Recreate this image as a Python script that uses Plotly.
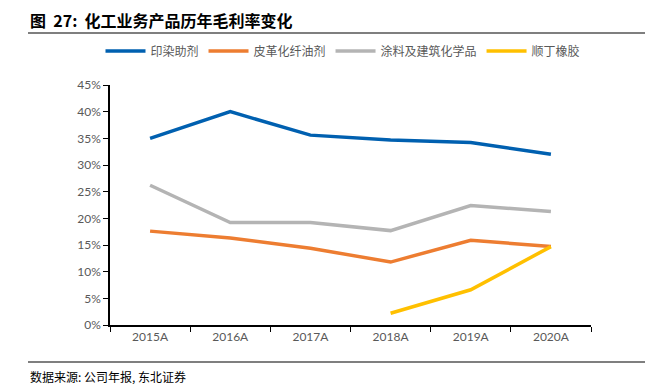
import plotly.graph_objects as go

years = ["2015A", "2016A", "2017A", "2018A", "2019A", "2020A"]
yinran = [35.0, 40.0, 35.6, 34.7, 34.2, 32.0]
pige = [17.6, 16.3, 14.4, 11.8, 15.9, 14.7]
tuliao = [26.2, 19.2, 19.2, 17.7, 22.4, 21.3]
shunding = [None, None, None, 2.2, 6.6, 14.7]
yticks = [0, 5, 10, 15, 20, 25, 30, 35, 40, 45]
ytick_text = [f"{v}%" for v in yticks]

series = [
    ("印染助剂", yinran, "#0060B0"),
    ("皮革化纤油剂", pige, "#ED7D31"),
    ("涂料及建筑化学品", tuliao, "#B4B4B4"),
    ("顺丁橡胶", shunding, "#FFC000"),
]

fig = go.Figure()
for name, vals, col in series:
    fig.add_trace(go.Scatter(x=years, y=vals, name=name, mode="lines",
                             line=dict(color=col, width=3.5), connectgaps=False))

OFF = 8  # page body margin
W, H = 666 - OFF, 388 - OFF
# target pixel positions in the screenshot
PL, PR, PT, PB = 110, 591, 85, 325
L, T = PL - OFF, PT - OFF
R = W - (PR - OFF)
B = H - (PB - OFF)
pw, ph = PR - PL, PB - PT

def px(x):
    return (x - PL) / pw

def py(y):
    return (PB - y) / ph

fig.update_layout(
    width=W, height=H,
    margin=dict(l=L, r=R, t=T, b=B, autoexpand=False),
    plot_bgcolor="white", paper_bgcolor="white",
    font=dict(family="Lato, 'Noto Sans CJK SC'", size=12, color="#595959"),
    showlegend=True,
    legend=dict(orientation="h", x=px(343), y=py(51), xanchor="center", yanchor="middle",
                font=dict(family="'Noto Sans CJK SC'", size=12, color="#595959"),
                itemwidth=40, tracegroupgap=0, bgcolor="rgba(0,0,0,0)"),
    xaxis=dict(range=[-0.5, 5.5], showline=True, linecolor="black", linewidth=1.5,
               ticks="outside", tickson="boundaries", ticklen=5, tickcolor="black",
               showgrid=False, tickfont=dict(family="Lato", size=12, color="#595959")),
    yaxis=dict(range=[0, 45], tickvals=yticks, ticktext=ytick_text, showline=True,
               linecolor="black", linewidth=1.5, ticks="outside", ticklen=5,
               tickcolor="black", showgrid=False, zeroline=False,
               tickfont=dict(family="Lato", size=12, color="#595959")),
)

fig.add_annotation(text="<b>图  27:  化工业务产品历年毛利率变化</b>", xref="paper", yref="paper",
                   x=px(28), y=py(20), xanchor="left", yanchor="middle", showarrow=False,
                   font=dict(family="'Noto Sans CJK SC'", size=16, color="black"))
fig.add_annotation(text="数据来源: 公司年报, 东北证券", xref="paper", yref="paper",
                   x=px(28), y=py(376), xanchor="left", yanchor="middle", showarrow=False,
                   font=dict(family="'Noto Sans CJK SC'", size=12, color="black"))
fig.add_shape(type="line", xref="paper", yref="paper", x0=px(28), x1=px(645),
              y0=py(33), y1=py(33), line=dict(color="black", width=1.2))
fig.add_shape(type="line", xref="paper", yref="paper", x0=px(28), x1=px(645),
              y0=py(362), y1=py(362), line=dict(color="black", width=1.2))

fig.write_html("out.html")
